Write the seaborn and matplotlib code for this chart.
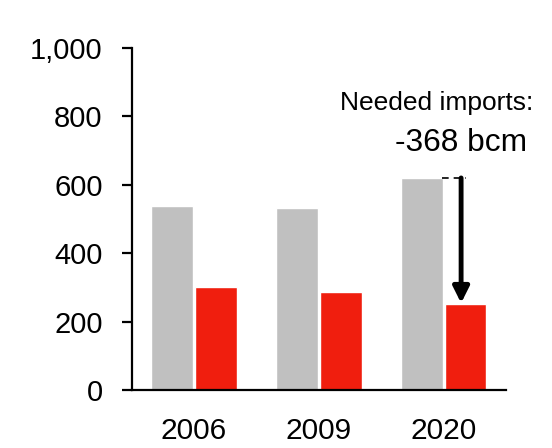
import pandas as pd
import numpy as np
import matplotlib
matplotlib.use("Agg")
import matplotlib.pyplot as plt
import seaborn as sb
from matplotlib.ticker import FuncFormatter

years = ["2006", "2009", "2020"]
demand = [538, 533, 620]      # grey bars
production = [300, 287, 252]  # red bars

df = pd.DataFrame({
    "year": years * 2,
    "value": demand + production,
    "series": ["demand"] * 3 + ["production"] * 3,
})

sb.set_style("white")
plt.rcParams["font.family"] = ["Liberation Sans", "DejaVu Sans"]
plt.rcParams["text.color"] = "black"

fig = plt.figure(figsize=(5.52, 4.48), dpi=100)
ax = fig.add_axes([0.2386, 0.1295, 0.6781, 0.7634])

sb.barplot(data=df, x="year", y="value", hue="series",
           palette=["#c0c0c0", "#f01e0e"], saturation=1,
           width=0.7, gap=0.04, legend=False, ax=ax)

ax.set_xlim(-0.5, 2.5)
ax.set_ylim(0, 1000)
ax.set_yticks(np.arange(0, 1001, 200))
ax.yaxis.set_major_formatter(FuncFormatter(lambda v, p: f"{int(v):,}"))
ax.set_xlabel("")
ax.set_ylabel("")

for s in ["top", "right"]:
    ax.spines[s].set_visible(False)
for s in ["left", "bottom"]:
    ax.spines[s].set_linewidth(1.6)
    ax.spines[s].set_color("black")

ax.tick_params(axis="y", left=True, length=7, width=1.6, color="black",
               labelsize=21, pad=14, labelcolor="black")
ax.tick_params(axis="x", bottom=False, labelsize=21.5, pad=16, labelcolor="black")

# gap annotation on the last group
gap = demand[-1] - production[-1]
ax_x = 2.14
ax.plot([2 - 0.01, ax_x + 0.04], [demand[-1], demand[-1]], ls=(0, (4, 3)), color="black", lw=1.2)
ax.annotate("", xy=(ax_x, production[-1] + 2), xytext=(ax_x, demand[-1]),
            arrowprops=dict(arrowstyle="-|>", lw=3.5, color="black",
                            mutation_scale=24, shrinkA=0, shrinkB=0))

fig.text(533 / 552, 1 - 103 / 448, "Needed imports:", ha="right", va="center", fontsize=19)
fig.text(527 / 552, 1 - 143 / 448, f"-{gap} bcm", ha="right", va="center", fontsize=22.8)

plt.savefig("out.png", dpi=100)
